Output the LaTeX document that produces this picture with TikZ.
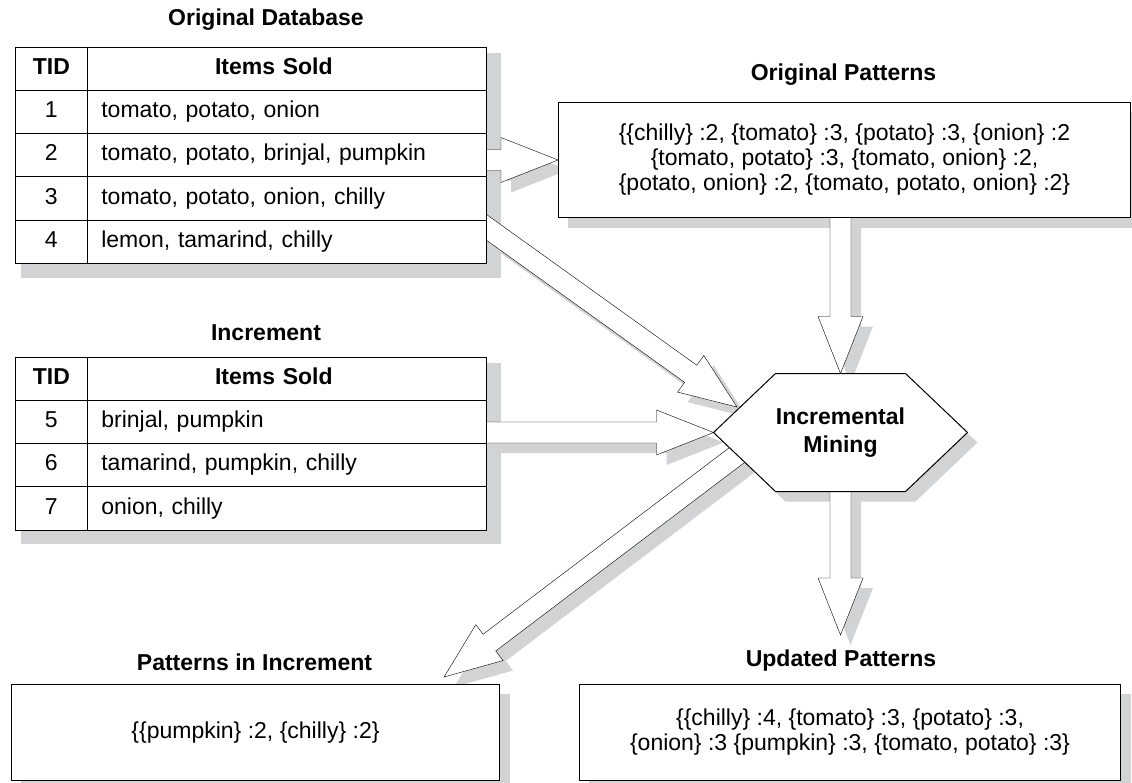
\documentclass[tikz,border=0pt]{standalone}
\usepackage{fontspec}
\setmainfont{Liberation Sans}
\usetikzlibrary{matrix,calc}
\definecolor{shade}{RGB}{209,211,212}
\newcommand\figfont{\fontsize{23}{25}\selectfont}
\pgfdeclarelayer{shadow}
\pgfdeclarelayer{arrow}
\pgfsetlayers{shadow,arrow,main}
\newcommand\bigarrow[2]{($(#1)!10.5pt!90:(#2)$) -- ($(#2)!57pt!(#1)!10.5pt!-90:(#1)$)
  -- ($(#2)!57pt!(#1)!22.5pt!-90:(#1)$) -- (#2) -- ($(#2)!57pt!(#1)!22.5pt!90:(#1)$)
  -- ($(#2)!57pt!(#1)!10.5pt!90:(#1)$) -- ($(#1)!10.5pt!-90:(#2)$) -- cycle}
\newcommand\hexa[1]{(#1.west) -- ([xshift=62pt]#1.north west) -- ([xshift=-62pt]#1.north east)
  -- (#1.east) -- ([xshift=-62pt]#1.south east) -- ([xshift=62pt]#1.south west) -- cycle}
\newcommand\feed[2]{%
  \begin{pgfonlayer}{shadow}\fill[drop] \bigarrow{#1}{#2};\end{pgfonlayer}
  \begin{pgfonlayer}{arrow}\filldraw[fill=white] \bigarrow{#1}{#2};\end{pgfonlayer}}
\begin{document}
\begin{tikzpicture}[x=1pt, y=-1pt, line width=1pt,
  every node/.style={font=\figfont},
  title/.style={font=\figfont\bfseries},
  box/.style={draw, fill=white, anchor=north west, align=center},
  drop/.style={fill=shade, transform canvas={shift={(10,10)}}},
  table/.style={matrix of nodes, anchor=north west,
    row sep=-\pgflinewidth, column sep=-\pgflinewidth,
    nodes={draw, fill=white, anchor=center, minimum height=43.2pt,
      text height=17pt, text depth=6pt, inner sep=0pt},
    column 1/.style={nodes={minimum width=72pt}},
    column 2/.style={nodes={text width=371pt, inner xsep=14pt, align=left}},
    row 1/.style={nodes={font=\figfont\bfseries}}}]
  \useasboundingbox (0,0) rectangle (1132,782);

  \node[title] (odbtitle) at (266,20) {Original Database};
  \matrix (odb) [table] at (11,43) {
    TID & \makebox[345pt]{Items Sold} \\
    1 & tomato, potato, onion \\
    2 & tomato, potato, brinjal, pumpkin \\
    3 & tomato, potato, onion, chilly \\
    4 & lemon, tamarind, chilly \\
  };
  \node[title] (inctitle) at (266,333) {Increment};
  \matrix (inc) [table] at (11,353) {
    TID & \makebox[345pt]{Items Sold} \\
    5 & brinjal, pumpkin \\
    6 & tamarind, pumpkin, chilly \\
    7 & onion, chilly \\
  };

  \node[title] (opattitle) at (843.5,75) {Original Patterns};
  \node[box, minimum width=572pt, minimum height=115pt] (opat) at (558,102)
    {\{\{chilly\} :2, \{tomato\} :3, \{potato\} :3, \{onion\} :2\\
     \{tomato, potato\} :3, \{tomato, onion\} :2,\\
     \{potato, onion\} :2, \{tomato, potato, onion\} :2\}};
  \node[title] (pinctitle) at (254.5,662) {Patterns in Increment};
  \node[box, minimum width=488pt, minimum height=96pt] (pinc) at (11,684)
    {\{\{pumpkin\} :2, \{chilly\} :2\}};
  \node[title] (upattitle) at (841,661) {Updated Patterns};
  \node[box, minimum width=541pt, minimum height=96pt] (upat) at (579,684)
    {\{\{chilly\} :4, \{tomato\} :3, \{potato\} :3,\\
     \{onion\} :3 \{pumpkin\} :3, \{tomato, potato\} :3\}};

  \node[minimum width=253pt, minimum height=117pt, inner sep=0pt] (mine) at (840.5,432.5) {};
  \draw[fill=white] \hexa{mine};
  \node[title, align=center] (minetext) at (mine) {Incremental\\[3pt]Mining};

  \begin{pgfonlayer}{shadow}
    \foreach \n in {odb,inc,opat,pinc,upat} \fill[drop] (\n.north west) rectangle (\n.south east);
    \fill[drop] \hexa{mine};
  \end{pgfonlayer}

  \coordinate (odbout) at ([xshift=-30pt]odb.east |- opat.west);
  \coordinate (odbout2) at (440,194);
  \coordinate (incout) at ([xshift=-30pt]inc.east |- mine.west);
  \coordinate (opatout) at (mine |- opat);
  \coordinate (minein) at (737,407);
  \coordinate (mineout) at (770,430);
  \coordinate (pinctip) at (444,677);
  \coordinate (upattip) at (840.5,635);

  \feed{odbout}{opat.west}
  \feed{odbout2}{minein}
  \feed{incout}{mine.west}
  \feed{opatout}{mine.north}
  \feed{mineout}{pinctip}
  \feed{mine.center}{upattip}
\end{tikzpicture}
\end{document}
